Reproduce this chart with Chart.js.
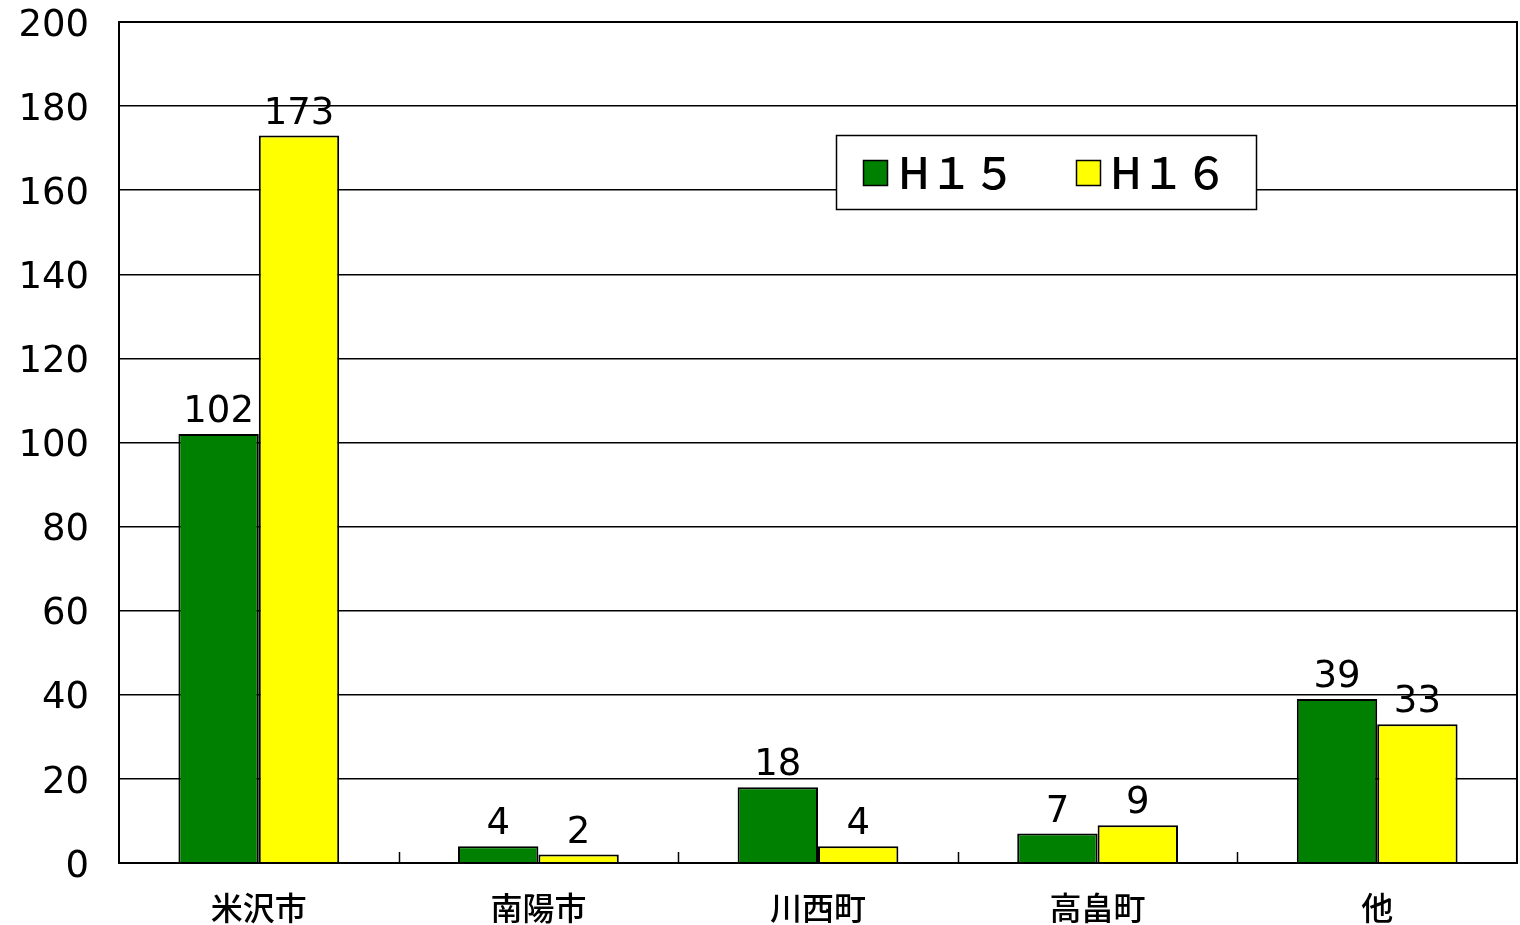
<!DOCTYPE html>
<html>
<head>
<meta charset="utf-8">
<script src="https://cdn.jsdelivr.net/npm/chart.js@4/dist/chart.umd.min.js"></script>
<style>
  html, body { margin: 0; padding: 0; background: #fff; }
  #wrap { width: 1520px; height: 925px; }
</style>
</head>
<body>
<div id="wrap"><canvas id="c" width="1520" height="925"></canvas></div>
<script>
const categories = ['米沢市', '南陽市', '川西町', '高畠町', '他'];
const seriesNames = ['H１５', 'H１６'];
const h15 = [102, 4, 18, 7, 39];
const h16 = [173, 2, 4, 9, 33];
const yTicks = [0, 20, 40, 60, 80, 100, 120, 140, 160, 180, 200];

const numFont = '"DejaVu Sans", sans-serif';
const cjkFont = '"Noto Sans CJK JP", sans-serif';

// Value labels above each bar
const valueLabels = {
  id: 'valueLabels',
  afterDatasetsDraw(chart) {
    const ctx = chart.ctx;
    ctx.save();
    ctx.font = '37px ' + numFont;
    ctx.fillStyle = '#000';
    ctx.textAlign = 'center';
    ctx.textBaseline = 'alphabetic';
    chart.data.datasets.forEach((ds, i) => {
      chart.getDatasetMeta(i).data.forEach((bar, j) => {
        ctx.fillText(String(ds.data[j]), bar.x, bar.y - 12);
      });
    });
    ctx.restore();
  }
};

// Frame around the plot area and inward ticks between categories
const frame = {
  id: 'frame',
  afterDraw(chart) {
    const { ctx, chartArea: a } = chart;
    const xs = chart.scales.x;
    ctx.save();
    ctx.strokeStyle = '#000';
    ctx.lineWidth = 2;
    ctx.strokeRect(a.left, a.top, a.right - a.left, a.bottom - a.top);
    ctx.lineWidth = 1.5;
    for (let i = 0; i < categories.length - 1; i++) {
      const x = Math.round((xs.getPixelForValue(i) + xs.getPixelForValue(i + 1)) / 2) + 0.5;
      ctx.beginPath();
      ctx.moveTo(x, a.bottom);
      ctx.lineTo(x, a.bottom - 11);
      ctx.stroke();
    }
    ctx.restore();
  }
};

// Boxed legend inside the plot area
const boxLegend = {
  id: 'boxLegend',
  afterDraw(chart) {
    const ctx = chart.ctx;
    const bx = 836, by = 135, bw = 420, bh = 74;
    ctx.save();
    ctx.fillStyle = '#fff';
    ctx.fillRect(bx, by, bw, bh);
    ctx.strokeStyle = '#000';
    ctx.lineWidth = 1.5;
    ctx.strokeRect(bx + 0.5, by + 0.5, bw, bh);
    const items = [
      { sx: 863, tx: 898 },
      { sx: 1076, tx: 1110 }
    ];
    ctx.font = '500 43px ' + cjkFont;
    ctx.textBaseline = 'alphabetic';
    ctx.textAlign = 'left';
    chart.data.datasets.forEach((ds, i) => {
      const it = items[i];
      ctx.fillStyle = ds.backgroundColor;
      ctx.fillRect(it.sx, 160, 25, 26);
      ctx.lineWidth = 1.5;
      ctx.strokeStyle = '#000';
      ctx.strokeRect(it.sx + 0.5, 160.5, 24, 25);
      ctx.fillStyle = '#000';
      ctx.fillText(ds.label, it.tx, 189);
    });
    ctx.restore();
  }
};

new Chart(document.getElementById('c'), {
  type: 'bar',
  data: {
    labels: categories,
    datasets: [
      { label: seriesNames[0], data: h15, backgroundColor: '#008000', borderColor: '#000', borderWidth: 2 },
      { label: seriesNames[1], data: h16, backgroundColor: '#ffff00', borderColor: '#000', borderWidth: 2 }
    ]
  },
  options: {
    responsive: false,
    animation: false,
    devicePixelRatio: 1,
    categoryPercentage: 0.575,
    barPercentage: 1,
    layout: { padding: { top: 22, right: 3, left: 0, bottom: 0 } },
    plugins: { legend: { display: false }, tooltip: { enabled: false } },
    scales: {
      x: {
        grid: { display: false, drawTicks: false },
        border: { display: true, color: '#000', width: 2 },
        ticks: { color: '#000', padding: 26, font: { family: cjkFont, size: 32, weight: '500' } },
        afterFit(s) { s.height = 62; s.paddingLeft = 0; s.paddingRight = 0; }
      },
      y: {
        min: 0,
        max: 200,
        afterBuildTicks(s) { s.ticks = yTicks.map(v => ({ value: v })); },
        grid: { color: '#000', lineWidth: 1.5, drawTicks: false },
        border: { display: true, color: '#000', width: 2 },
        ticks: { color: '#000', padding: 30, labelOffset: 4, font: { family: numFont, size: 37 } },
        afterFit(s) { s.width = 119; s.paddingTop = 0; s.paddingBottom = 0; }
      }
    }
  },
  plugins: [valueLabels, frame, boxLegend]
});
</script>
</body>
</html>
